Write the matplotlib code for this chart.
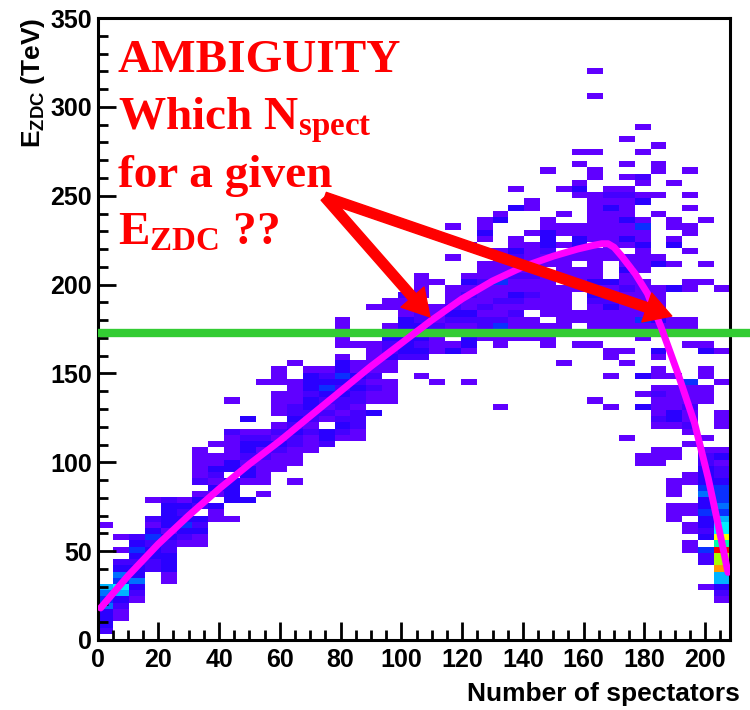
import numpy as np
import matplotlib
matplotlib.use("Agg")
import matplotlib.pyplot as plt
from matplotlib.colors import ListedColormap, BoundaryNorm
from matplotlib.ticker import MultipleLocator

plt.rcParams['font.family'] = ['Liberation Sans', 'DejaVu Sans']
plt.rcParams['font.weight'] = 'bold'
plt.rcParams['mathtext.fontset'] = 'custom'
plt.rcParams['mathtext.bf'] = 'Liberation Serif:bold'
plt.rcParams['mathtext.sf'] = 'Liberation Sans:bold'
plt.rcParams['mathtext.rm'] = 'Liberation Sans:bold'

# --- histogram binning (E_ZDC vs number of spectators) ---
x_range = (0, 208)
y_range = (0, 350)
n_xbins = 40
n_ybins = 100

# per x-bin: first filled y-bin, then counts going up (hex digit, 0 = empty)
col_start = [1, 3, 6, 11, 9, 15, 15, 19, 19, 22,
             23, 27, 25, 30, 31, 32, 32, 36, 38, 45,
             42, 41, 46, 41, 48, 37, 48, 48, 47, 44,
             47, 38, 37, 32, 28, 28, 19, 14, 8, 6]
col_levels = [
    "233354560000000001",
    "11236745320101",
    "12353323432",
    "223324312001",
    "11333223133332",
    "12343231",
    "1132302310211111",
    "1130131231101",
    "10033330331111200001",
    "30013312332103",
    "1011112132100000001",
    "11123121011110111",
    "10011122323221111001",
    "11121223323331",
    "2330121234321",
    "12321223234331011011",
    "1122212232311001",
    "301121211111010001",
    "11110113223010011",
    "23333331112",
    "10023233322101111",
    "10000111221110001",
    "310112321110000100001",
    "10000133212311213100001",
    "11221211121110101311",
    "10000000001124211211411111000031",
    "1111212311211231100003001",
    "10110112112111110100011",
    "11110111111101123331100000001",
    "10000111111110111101011010001",
    "10001100011110113311000013100101",
    "100000000101111123131111101111111100110010000000010001",
    "100001001100111132213000111111113121",
    "1000000000001010011111112113110131131112101010001",
    "1100000003010030000011141111110111131141003101200010001",
    "1110001211121011013001131111100031000000100100011001",
    "1110111000110001331111010000000110000300010031011000001",
    "11011011000110000101211211140000010111000011000010011001010001",
    "100022403233433543332210100000111011003100000000010010000001",
    "12366caad8b7764544432213100011100001000010000000001",
]

# fitted mean response
curve_x = [1, 10, 20, 30, 40, 50, 60, 70, 80, 90, 100, 110, 120, 130, 140,
           150, 158, 163, 166, 168, 170, 172.5, 177, 181, 185.5, 191, 196.5,
           201, 204, 207.5]
curve_y = [18, 36, 54, 70, 85, 99, 112, 126, 140, 154, 167, 180, 192, 202, 210,
           216, 220, 222, 223, 223, 221, 216, 206, 195, 176, 150, 122,
           91, 67, 38]

e_cut = 173
arrow_tail = (74.8, 249.3)
arrow_heads = [(109.4, 181.8), (189.0, 182.3)]

counts = np.zeros((n_ybins, n_xbins))
for i, (j0, s) in enumerate(zip(col_start, col_levels)):
    for k, ch in enumerate(s):
        counts[j0 + k, i] = int(ch, 16)
counts = np.ma.masked_equal(counts, 0)

xedges = np.linspace(x_range[0], x_range[1], n_xbins + 1)
yedges = np.linspace(y_range[0], y_range[1], n_ybins + 1)

palette = ['#6000ff', '#4400ff', '#2a00ff', '#0a30ff', '#0070ff', '#00b4ff',
           '#00f0ff', '#00ffa8', '#50ff30', '#a8ff00', '#ffff00', '#ff9900',
           '#ff0000']
cmap = ListedColormap(palette)
norm = BoundaryNorm(np.arange(0.5, len(palette) + 1.5), cmap.N)

fig = plt.figure(figsize=(7.5, 7.1), dpi=100)
ax = fig.add_axes([0.13, 0.0986, 0.8427, 0.876])

ax.pcolormesh(xedges, yedges, counts, cmap=cmap, norm=norm,
              edgecolors='none', antialiased=False, zorder=1)

ax.plot([0, 216], [e_cut, e_cut], color='#33cc33', lw=6,
        solid_capstyle='butt', clip_on=False, zorder=3)
ax.plot(curve_x, curve_y, color='#ff00ff', lw=5,
        solid_capstyle='round', solid_joinstyle='round', zorder=4)

for head in arrow_heads:
    ax.annotate('', xy=head, xytext=arrow_tail, zorder=5,
                arrowprops=dict(color='red', width=7, headwidth=22,
                                headlength=19, shrink=0))

txt = dict(color='red', fontsize=34, family='Liberation Serif',
           weight='bold', va='baseline', zorder=6)
ax.text(6.7, 319.6, 'AMBIGUITY', **txt)
ax.text(6.7, 287.0, r'Which $\mathbf{N_{spect}}$', **txt)
ax.text(6.7, 254.9, 'for a given', **txt)
ax.text(6.7, 222.3, r'$\mathbf{E_{ZDC}}$ ??', **txt)

ax.set_xlim(*x_range)
ax.set_ylim(*y_range)
ax.xaxis.set_major_locator(MultipleLocator(20))
ax.xaxis.set_minor_locator(MultipleLocator(5))
ax.yaxis.set_major_locator(MultipleLocator(50))
ax.yaxis.set_minor_locator(MultipleLocator(10))
ax.tick_params(which='both', direction='in', width=2, labelsize=18)
ax.tick_params(which='major', length=13)
ax.tick_params(which='minor', length=7)
ax.tick_params(axis='x', pad=6)
ax.tick_params(axis='y', pad=4)
for sp in ax.spines.values():
    sp.set_linewidth(2.2)

fig.text(0.987, 0.0127, 'Number of spectators', ha='right', va='baseline',
         fontsize=19, weight='bold')
fig.text(0.044, 0.976, r'$\mathsf{E_{ZDC}}$ (TeV)', rotation=90,
         ha='center', va='top', fontsize=19, weight='bold')

fig.savefig('out.png', dpi=100)
